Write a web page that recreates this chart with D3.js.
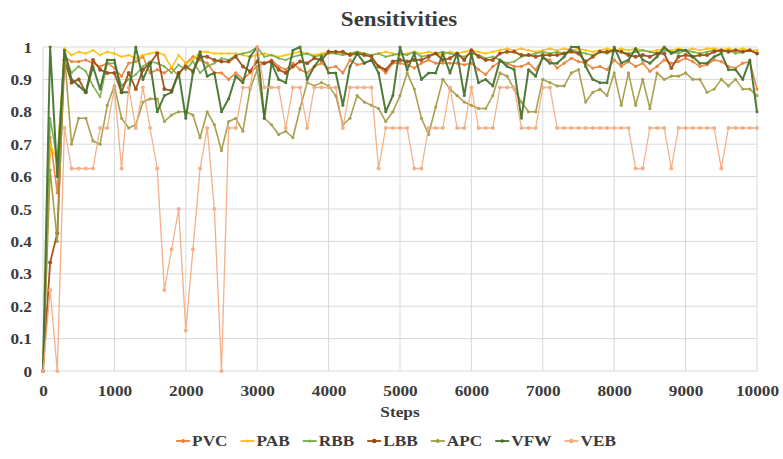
<!DOCTYPE html>
<html><head><meta charset="utf-8">
<script src="https://cdn.jsdelivr.net/npm/d3@7"></script>
<style>
html,body{margin:0;padding:0;background:#fff;}
svg{display:block;}
text{font-family:"Liberation Serif","Times New Roman",serif;font-weight:bold;fill:#3b3b3b;}
</style></head>
<body>
<svg id="chart" width="783" height="459"></svg>
<script>
// ---------- data ----------
const steps = d3.range(0, 10001, 100); // 0,100,...,10000 (x categories)
const seriesNames = ["PVC","PAB","RBB","LBB","APC","VFW","VEB"];
const xTicks = [0,1000,2000,3000,4000,5000,6000,7000,8000,9000,10000];
const xTickLabels = ["0","1000","2000","3000","4000","5000","6000","7000","8000","9000","10000"];
const yTicks = [0,0.1,0.2,0.3,0.4,0.5,0.6,0.7,0.8,0.9,1];
const yTickLabels = ["0","0.1","0.2","0.3","0.4","0.5","0.6","0.7","0.8","0.9","1"];

const PVC = [0,0.72,0.55,0.97,0.955,0.955,0.96,0.95,0.94,0.95,
 0.935,0.91,0.95,0.955,0.97,0.92,0.93,0.92,0.935,0.91,
 0.95,0.97,0.96,0.95,0.92,0.92,0.9,0.92,0.9,0.92,
 0.94,0.95,0.96,0.94,0.93,0.95,0.93,0.92,0.94,0.95,
 0.935,0.94,0.92,0.96,0.945,0.95,0.96,0.94,0.92,0.95,
 0.95,0.945,0.935,0.95,0.96,0.95,0.95,0.95,0.95,0.945,
 0.95,0.93,0.915,0.94,0.955,0.95,0.94,0.94,0.95,0.93,
 0.965,0.96,0.935,0.95,0.965,0.955,0.95,0.935,0.94,0.93,
 0.96,0.94,0.955,0.94,0.95,0.925,0.94,0.96,0.95,0.955,
 0.965,0.955,0.94,0.945,0.96,0.955,0.94,0.935,0.95,0.955,0.87];
const PAB = [0,0.7,0.65,0.995,0.975,0.985,0.98,0.99,0.975,0.985,
 0.98,0.97,0.975,0.965,0.975,0.98,0.985,0.975,0.935,0.975,
 0.95,0.96,0.985,0.985,0.98,0.98,0.98,0.98,0.975,0.97,
 0.975,0.98,0.975,0.97,0.975,0.98,0.985,0.98,0.975,0.98,
 0.985,0.985,0.98,0.98,0.985,0.98,0.975,0.98,0.985,0.98,
 0.975,0.98,0.985,0.98,0.985,0.98,0.975,0.985,0.98,0.985,
 0.99,0.985,0.98,0.985,0.99,0.995,0.99,0.995,0.99,0.985,
 0.99,0.995,0.99,0.995,0.99,0.995,0.99,0.985,0.99,0.995,
 0.99,0.995,0.99,0.995,0.99,0.985,0.99,0.995,0.99,0.995,
 0.99,0.995,0.99,0.995,0.995,0.99,0.995,0.99,0.995,0.99,0.99];
const RBB = [0,0.78,0.65,0.98,0.92,0.94,0.925,0.88,0.846,0.95,
 0.95,0.88,0.9,0.915,0.94,0.955,0.95,0.94,0.92,0.945,
 0.93,0.955,0.92,0.94,0.95,0.965,0.96,0.975,0.98,0.985,
 1.0,0.97,0.975,0.965,0.96,0.97,0.975,0.98,0.97,0.975,
 0.98,0.98,0.975,0.98,0.985,0.98,0.975,0.98,0.97,0.975,
 0.98,0.975,0.985,0.97,0.975,0.98,0.985,0.98,0.975,0.97,
 0.98,0.975,0.965,0.97,0.96,0.95,0.955,0.97,0.975,0.98,
 0.985,0.98,0.985,0.98,0.99,0.985,0.98,0.975,0.985,0.98,
 0.99,0.985,0.98,0.985,0.99,0.985,0.98,0.99,0.985,0.98,
 0.99,0.985,0.98,0.985,0.99,0.985,0.99,0.98,0.985,0.99,0.98];
const LBB = [0,0.335,0.425,0.96,0.89,0.9,0.86,0.96,0.93,0.92,
 0.92,0.86,0.92,0.87,0.93,0.95,0.98,0.87,0.865,0.92,
 0.94,0.925,0.97,0.97,0.96,0.955,0.955,0.97,0.94,0.925,
 0.955,0.95,0.955,0.93,0.92,0.94,0.955,0.95,0.965,0.96,
 0.985,0.985,0.985,0.975,0.98,0.975,0.97,0.94,0.93,0.955,
 0.96,0.955,0.96,0.96,0.97,0.98,0.96,0.965,0.98,0.96,
 0.99,0.97,0.96,0.96,0.98,0.985,0.985,0.975,0.975,0.97,
 0.975,0.975,0.975,0.98,0.985,0.98,0.955,0.97,0.985,0.985,
 0.99,0.985,0.975,0.97,0.975,0.97,0.98,0.98,0.935,0.97,
 0.975,0.97,0.975,0.975,0.985,0.99,0.985,0.99,0.985,0.99,0.98];
const APC = [0,0.62,0.4,0.98,0.7,0.78,0.78,0.71,0.7,0.82,
 0.88,0.78,0.75,0.76,0.83,0.84,0.84,0.77,0.79,0.8,
 0.8,0.79,0.72,0.8,0.76,0.68,0.77,0.78,0.74,0.87,
 0.93,0.78,0.76,0.73,0.74,0.72,0.81,0.89,0.88,0.89,
 0.88,0.85,0.76,0.78,0.85,0.83,0.82,0.81,0.77,0.8,
 0.85,0.92,0.87,0.78,0.73,0.815,0.9,0.87,0.85,0.83,
 0.82,0.81,0.81,0.85,0.92,0.91,0.87,0.83,0.8,0.8,
 0.9,0.89,0.88,0.88,0.92,0.93,0.83,0.86,0.87,0.85,
 0.92,0.82,0.92,0.82,0.9,0.81,0.92,0.9,0.91,0.91,
 0.92,0.9,0.9,0.86,0.87,0.9,0.88,0.9,0.87,0.87,0.85];
const VFW = [0,1.0,0.6,0.99,0.9,0.88,0.86,0.94,0.87,0.96,
 0.96,0.86,0.86,1.0,0.9,0.95,0.8,0.85,0.86,0.92,
 0.78,0.92,0.985,0.91,0.92,0.8,0.84,0.91,0.89,0.97,
 1.0,0.78,0.95,0.9,0.89,0.99,1.0,0.9,0.94,0.97,
 0.92,0.92,0.82,0.94,0.98,0.95,0.96,0.92,0.8,0.85,
 1.0,0.93,0.98,0.9,0.92,0.92,0.98,0.92,0.98,0.85,
 0.98,0.89,0.9,0.88,0.96,0.94,0.93,0.78,0.93,0.91,
 0.97,0.95,0.95,0.97,1.0,1.0,0.94,0.9,0.89,0.89,
 1.0,0.95,0.96,0.995,0.96,0.95,0.97,1.0,0.98,0.99,
 0.99,0.97,0.95,0.95,0.97,0.98,0.93,0.93,0.9,0.96,0.8];
const VEB = [0,0.25,0,0.75,0.625,0.625,0.625,0.625,0.75,0.75,
 0.875,0.625,0.875,0.75,0.875,0.75,0.625,0.25,0.375,0.5,
 0.125,0.375,0.625,0.75,0.5,0,0.75,0.75,0.875,0.875,
 1,0.875,0.875,0.875,0.75,0.875,0.875,0.75,0.875,0.875,
 0.875,0.875,0.75,0.875,0.875,0.875,0.875,0.625,0.75,0.75,
 0.75,0.75,0.625,0.625,0.75,0.75,0.75,0.875,0.75,0.75,
 0.875,0.75,0.75,0.75,0.875,0.875,0.875,0.75,0.75,0.75,
 0.875,0.875,0.75,0.75,0.75,0.75,0.75,0.75,0.75,0.75,
 0.75,0.75,0.75,0.625,0.625,0.75,0.75,0.75,0.625,0.75,
 0.75,0.75,0.75,0.75,0.75,0.625,0.75,0.75,0.75,0.75,0.75];

const seriesValues = [PVC,PAB,RBB,LBB,APC,VFW,VEB];
const colors = ["#ED7D31","#FFC000","#70AD47","#9E480E","#A29A42","#43702B","#F4AB80"];
const widths = [1.6,1.6,1.6,1.8,1.6,2,1.3];
const markerR = [1.6,1.3,1.2,2,1.6,1.5,2];

// ---------- layout ----------
const svg = d3.select("#chart");
const x = d3.scaleLinear().domain([0,10000]).range([43,757]);
const y = d3.scaleLinear().domain([0,1]).range([371,47]);
const SX = 1.15;

// grid
const grid = svg.append("g");
grid.selectAll("line.h").data(yTicks).join("line")
  .attr("x1", x(0)).attr("x2", x(10000))
  .attr("y1", d=>y(d)).attr("y2", d=>y(d))
  .attr("stroke","#d9d9d9").attr("stroke-width",1);
grid.selectAll("line.v").data(xTicks).join("line")
  .attr("x1", d=>x(d)).attr("x2", d=>x(d))
  .attr("y1", y(0)).attr("y2", y(1))
  .attr("stroke","#d9d9d9").attr("stroke-width",1);

// axes
const gy = svg.append("g").attr("transform",`translate(${x(0)},0)`)
  .call(d3.axisLeft(y).tickValues(yTicks).tickFormat((d,i)=>yTickLabels[i]).tickSize(0).tickPadding(0));
gy.select(".domain").remove();
gy.selectAll(".tick text").attr("x",null).attr("dy",null)
  .attr("transform",`translate(-11,5) scale(${SX},1)`)
  .style("font-size","15px").attr("fill","#3b3b3b");

const gx = svg.append("g").attr("transform",`translate(0,${y(0)})`)
  .call(d3.axisBottom(x).tickValues(xTicks).tickFormat((d,i)=>xTickLabels[i]).tickSize(0).tickPadding(0));
gx.select(".domain").remove();
gx.selectAll(".tick text").attr("y",null).attr("dy",null)
  .attr("transform",`translate(0,25) scale(${SX},1)`)
  .style("font-size","15px").attr("fill","#3b3b3b");

function stext(tx, ty, str, size, anchor){
  return svg.append("text").attr("transform",`translate(${tx},${ty}) scale(${SX},1)`)
    .attr("text-anchor",anchor).style("font-size",size+"px").text(str);
}
stext(399, 26, "Sensitivities", 20, "middle");
stext(400, 417, "Steps", 15, "middle");

// series
const line = d3.line().x((d,i)=>x(steps[i])).y(d=>y(d));
seriesValues.forEach((vals,k)=>{
  const g = svg.append("g").attr("opacity",0.92);
  g.append("path").datum(vals).attr("d",line)
    .attr("fill","none").attr("stroke",colors[k]).attr("stroke-width",widths[k])
    .attr("stroke-linejoin","round");
  g.selectAll("circle").data(vals).join("circle")
    .attr("cx",(d,i)=>x(steps[i])).attr("cy",d=>y(d)).attr("r",markerR[k])
    .attr("fill",colors[k]);
});

// legend
const leg = svg.append("g");
const items = [];
let cx = 0;
seriesNames.forEach((n,k)=>{
  const it = leg.append("g");
  it.append("line").attr("x1",0).attr("x2",14).attr("y1",0).attr("y2",0)
    .attr("stroke",colors[k]).attr("stroke-width",1.8);
  it.append("circle").attr("cx",7).attr("cy",0).attr("r",markerR[k]+0.3).attr("fill",colors[k]);
  const t = it.append("text").attr("transform",`translate(16,5) scale(${SX},1)`)
    .style("font-size","15px").text(n);
  const w = t.node().getComputedTextLength()*SX;
  it.attr("transform",`translate(${cx},0)`);
  cx += 16 + w + 13;
});
const total = cx - 13;
leg.attr("transform",`translate(${396 - total/2},441)`);
</script>
</body></html>
